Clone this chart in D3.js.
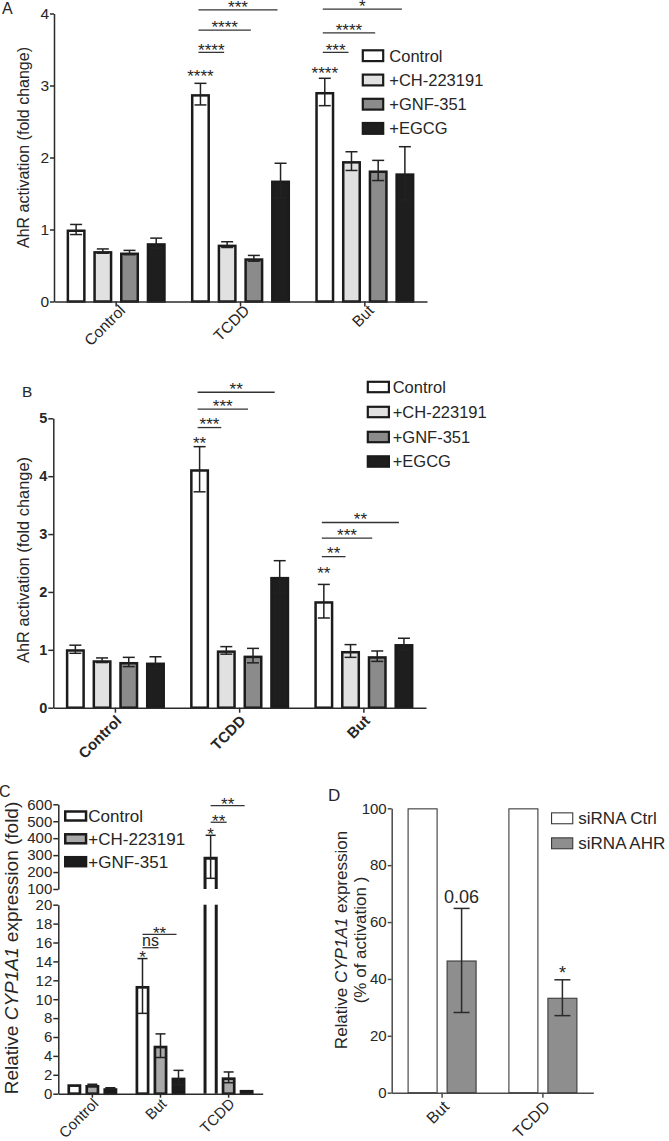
<!DOCTYPE html>
<html><head><meta charset="utf-8">
<script src="https://cdn.jsdelivr.net/npm/d3@7"></script>
<style>
body{margin:0;background:#fff;}
svg{display:block;}
</style></head><body>
<svg id="chart" width="669" height="1141"></svg>
<script>
// ================= DATA =================
// Panel A
const groupsA = ["Control", "TCDD", "But"];
const seriesA = ["Control", "+CH-223191", "+GNF-351", "+EGCG"];
const aControl = [1.00, 2.88, 2.91];
const aControlErr = [0.07, 0.15, 0.19];
const aCH = [0.70, 0.79, 1.95];
const aCHErr = [0.03, 0.04, 0.13];
const aGNF = [0.68, 0.60, 1.82];
const aGNFErr = [0.03, 0.04, 0.14];
const aEGCG = [0.81, 1.68, 1.78];
const aEGCGErr = [0.07, 0.24, 0.37];
const ticksA = [0, 1, 2, 3, 4];
const starsA = [["TCDD", "Control", "****", 3.19], ["But", "Control", "****", 3.23]];
const bracketsA = [
  ["TCDD", "Control", "+CH-223191", "****", 3.46],
  ["TCDD", "Control", "+GNF-351", "****", 3.77],
  ["TCDD", "Control", "+EGCG", "***", 4.05],
  ["But", "Control", "+CH-223191", "***", 3.46],
  ["But", "Control", "+GNF-351", "****", 3.73],
  ["But", "Control", "+EGCG", "*", 4.06]
];

// Panel B
const groupsB = ["Control", "TCDD", "But"];
const seriesB = ["Control", "+CH-223191", "+GNF-351", "+EGCG"];
const bControl = [1.01, 4.12, 1.84];
const bControlErr = [0.07, 0.39, 0.29];
const bCH = [0.82, 0.99, 0.98];
const bCHErr = [0.04, 0.065, 0.11];
const bGNF = [0.79, 0.90, 0.89];
const bGNFErr = [0.08, 0.125, 0.09];
const bEGCG = [0.78, 2.26, 1.10];
const bEGCGErr = [0.10, 0.28, 0.10];
const ticksB = [0, 1, 2, 3, 4, 5];
const starsB = [["TCDD", "Control", "**", 4.64], ["But", "Control", "**", 2.39]];
const bracketsB = [
  ["TCDD", "Control", "+CH-223191", "***", 4.84],
  ["TCDD", "Control", "+GNF-351", "***", 5.16],
  ["TCDD", "Control", "+EGCG", "**", 5.45],
  ["But", "Control", "+CH-223191", "**", 2.61],
  ["But", "Control", "+GNF-351", "***", 2.93],
  ["But", "Control", "+EGCG", "**", 3.20]
];

// Panel C
const groupsC = ["Control", "But", "TCDD"];
const seriesC = ["Control", "+CH-223191", "+GNF-351"];
const cControl = [1.0, 11.4, 290];
const cControlErr = [0, 2.9, 127];
const cCH = [0.92, 5.08, 1.73];
const cCHErr = [0.08, 1.25, 0.57];
const cGNF = [0.58, 1.7, 0.4];
const cGNFErr = [0.05, 0.77, 0];
const ticksCLow = [0, 2, 4, 6, 8, 10, 12, 14, 16, 18, 20];
const ticksCHigh = [100, 200, 300, 400, 500, 600];
const starsC = [["But", "Control", "*", 14.9], ["TCDD", "Control", "*", 448]];
const bracketsC = [
  ["But", "Control", "+CH-223191", "ns", 15.45],
  ["But", "Control", "+GNF-351", "**", 16.87],
  ["TCDD", "Control", "+CH-223191", "**", 494],
  ["TCDD", "Control", "+GNF-351", "**", 592]
];

// Panel D
const groupsD = ["But", "TCDD"];
const seriesD = ["siRNA Ctrl", "siRNA AHR"];
const dCtrl = [100, 100];
const dCtrlErr = [0, 0];
const dAHR = [46.5, 33.4];
const dAHRErr = [18.3, 6.3];
const ticksD = [0, 20, 40, 60, 80, 100];
const starsD = [["But", "siRNA AHR", "0.06", 68.9], ["TCDD", "siRNA AHR", "*", 43.7]];

// ================= STYLE =================
const FONT = "'Liberation Sans', Arial, Helvetica, sans-serif";
const INK = "#262626";
const fillsAB = ["#ffffff", "#e1e1e1", "#8b8b8b", "#1e1e1e"];
const fillsC = ["#ffffff", "#a9a9a9", "#1c1c1c"];
const fillsD = ["#ffffff", "#8e8e8e"];

const svg = d3.select("#chart").attr("font-family", FONT);

function errBar(g, cx, yLo, yHi, cap, color, w) {
  g.append("line").attr("x1", cx).attr("x2", cx).attr("y1", yLo).attr("y2", yHi)
    .attr("stroke", color).attr("stroke-width", w);
  [yLo, yHi].forEach(yy => g.append("line").attr("x1", cx - cap / 2).attr("x2", cx + cap / 2)
    .attr("y1", yy).attr("y2", yy).attr("stroke", color).attr("stroke-width", w));
}

function makePanel(o) {
  const g = svg.append("g");
  const xG = d3.scaleBand().domain(o.groups).range(o.xRange).padding(0);
  const xIn = d3.scaleBand().domain(o.seriesNames).range(o.inner).padding(0);
  const center = (grp, s) => xG(grp) + xG.bandwidth() / 2 + xIn(s) + xIn.bandwidth() / 2;
  return Object.assign(o, {g, xG, xIn, center});
}

function drawBars(p) {
  const y0 = p.y(0);
  p.series.forEach((s, si) => {
    p.groups.forEach((grp, gi) => {
      const v = s.vals[gi], e = s.errs[gi];
      const c = p.center(grp, s.name);
      if (p.broken && v > p.breakAt) { p.broken(c, v, e, si); return; }
      const top = p.y(v) + p.sw / 2;
      p.g.append("rect").attr("x", c - p.barW / 2).attr("y", top)
        .attr("width", p.barW).attr("height", Math.max(0, y0 - top))
        .attr("fill", p.fills[si]).attr("stroke", p.stroke).attr("stroke-width", p.sw);
      if (e > 0) errBar(p.g, c, p.y(v - e), p.y(v + e), p.cap, p.errColor, p.errW);
    });
  });
}

function drawStars(p, list, fs) {
  list.forEach(([grp, s, label, lvl]) => {
    const isStar = /^\*+$/.test(label);
    const yy = p.yAny(lvl);
    p.g.append("text").attr("x", p.center(grp, s)).attr("y", isStar ? yy + 0.57 * fs : yy + 0.36 * fs)
      .attr("text-anchor", "middle").attr("font-size", fs).attr("fill", INK).text(label);
  });
}

function drawBrackets(p, list, fs, gap) {
  list.forEach(([grp, s1, s2, label, lvl]) => {
    const x1 = p.center(grp, s1) + p.bx1, x2 = p.center(grp, s2) + p.bx2;
    const yy = p.yAny(lvl);
    p.g.append("line").attr("x1", x1).attr("x2", x2).attr("y1", yy).attr("y2", yy)
      .attr("stroke", "#333").attr("stroke-width", 1.3);
    const isStar = /^\*+$/.test(label);
    p.g.append("text").attr("x", (x1 + x2) / 2)
      .attr("y", isStar ? yy - gap + 0.57 * fs : yy - 1.5)
      .attr("text-anchor", "middle").attr("font-size", isStar ? fs : 16).attr("fill", INK).text(label);
  });
}

function styleAxis(sel, color, w, fs, fw) {
  sel.attr("font-family", FONT);
  sel.select(".domain").attr("stroke", color).attr("stroke-width", w);
  sel.selectAll(".tick line").attr("stroke", color).attr("stroke-width", w);
  sel.selectAll(".tick text").attr("fill", INK).attr("font-size", fs).attr("font-weight", fw || "normal");
}

function xAxis(p, baseY, color, w, fs, fw, dx, dy, tick) {
  const ax = p.g.append("g").attr("transform", `translate(0,${baseY})`)
    .call(d3.axisBottom(p.xG).tickSize(tick).tickSizeOuter(0));
  styleAxis(ax, color, w, fs, fw);
  ax.selectAll(".tick text").attr("x", 0).attr("y", 0).attr("dy", 0)
    .attr("text-anchor", "end").attr("transform", `translate(${dx},${dy}) rotate(-45)`);
  return ax;
}

function yAxis(p, scale, x, ticks, color, w, fs, fw, tick, pad) {
  const ax = p.g.append("g").attr("transform", `translate(${x},0)`)
    .call(d3.axisLeft(scale).tickValues(ticks).tickSize(tick).tickPadding(pad).tickSizeOuter(0).tickFormat(d3.format("d")));
  styleAxis(ax, color, w, fs, fw);
  return ax;
}

function legend(g, items, fills, x0, ys, bw, bh, tx, fs, sw, stroke) {
  items.forEach((name, i) => {
    g.append("rect").attr("x", x0 + sw / 2).attr("y", ys[i] - bh / 2 + sw / 2)
      .attr("width", bw - sw).attr("height", bh - sw)
      .attr("fill", fills[i]).attr("stroke", stroke).attr("stroke-width", sw);
    g.append("text").attr("x", tx).attr("y", ys[i]).attr("dy", "0.36em")
      .attr("font-size", fs).attr("fill", INK).text(name);
  });
}

function yTitle(lines, x, y, fs) {
  const t = svg.append("text").attr("transform", `translate(${x},${y}) rotate(-90)`)
    .attr("text-anchor", "middle").attr("font-size", fs).attr("fill", INK).attr("font-family", FONT);
  lines.forEach(([txt, italic]) => t.append("tspan").attr("font-style", italic ? "italic" : "normal").text(txt));
  return t;
}

function panelLabel(txt, x, y, fs) {
  svg.append("text").attr("x", x).attr("y", y).attr("font-size", fs).attr("fill", INK)
    .attr("font-family", FONT).text(txt);
}

// ================= PANEL A =================
{
  const y = d3.scaleLinear().domain([0, 4]).range([301.5, 13.5]);
  const p = makePanel({
    groups: groupsA, seriesNames: seriesA, xRange: [54, 427], inner: [-53.4, 53.4],
    y, yAny: y, barW: 16.5, sw: 2.5, stroke: "#1b1b1b", fills: fillsAB,
    cap: 12, errColor: "#222", errW: 1.5, bx1: -2, bx2: -3,
    series: [
      {name: seriesA[0], vals: aControl, errs: aControlErr},
      {name: seriesA[1], vals: aCH, errs: aCHErr},
      {name: seriesA[2], vals: aGNF, errs: aGNFErr},
      {name: seriesA[3], vals: aEGCG, errs: aEGCGErr}
    ]
  });
  drawBars(p);
  yAxis(p, y, 54, ticksA, "#2b2b2b", 1.5, 15.5, "normal", 4, 1);
  xAxis(p, y(0), "#2b2b2b", 1.5, 15.5, "normal", 10, 10, 5);
  drawStars(p, starsA, 17);
  drawBrackets(p, bracketsA, 17, 6.5);
  legend(p.g, seriesA, fillsAB, 361.7, [55.7, 80, 104.2, 128.4], 22.6, 13, 389.3, 16.5, 2.2, "#1b1b1b");
  yTitle([["AhR activation (fold change)", false]], 29, 147.5, 16);
  panelLabel("A", 2, 14, 16);
}

// ================= PANEL B =================
{
  const y = d3.scaleLinear().domain([0, 5]).range([707.7, 418.3]);
  const p = makePanel({
    groups: groupsB, seriesNames: seriesB, xRange: [53.3, 426], inner: [-53.4, 53.4],
    y, yAny: y, barW: 16.5, sw: 2.5, stroke: "#1b1b1b", fills: fillsAB,
    cap: 12, errColor: "#222", errW: 1.5, bx1: -2, bx2: -5,
    series: [
      {name: seriesB[0], vals: bControl, errs: bControlErr},
      {name: seriesB[1], vals: bCH, errs: bCHErr},
      {name: seriesB[2], vals: bGNF, errs: bGNFErr},
      {name: seriesB[3], vals: bEGCG, errs: bEGCGErr}
    ]
  });
  drawBars(p);
  yAxis(p, y, 53.3, ticksB, "#2b2b2b", 1.5, 14.5, "bold", 5, 1);
  xAxis(p, y(0), "#2b2b2b", 1.5, 15, "bold", 7, 14, 5);
  drawStars(p, starsB, 17);
  drawBrackets(p, bracketsB, 17, 7);
  legend(p.g, seriesB, fillsAB, 366.7, [387, 412, 437, 461.5], 23.3, 12.6, 392.7, 16.5, 2.2, "#1b1b1b");
  yTitle([["AhR activation (fold change)", false]], 29, 560, 16.4);
  panelLabel("B", 22, 397, 15.5);
}

// ================= PANEL C =================
{
  const yL = d3.scaleLinear().domain([0, 20]).range([1093.7, 904.7]);
  const yU = d3.scaleLinear().domain([100, 600]).range([889, 804.3]);
  const yAny = v => v > 20 ? yU(v) : yL(v);
  const p = makePanel({
    groups: groupsC, seriesNames: seriesC, xRange: [58.3, 262.7], inner: [-27, 27],
    y: yL, yAny, barW: 11.2, sw: 2.7, stroke: "#1b1b1b", fills: fillsC,
    cap: 10, errColor: "#222", errW: 1.5, bx1: 0, bx2: -2, breakAt: 20,
    series: [
      {name: seriesC[0], vals: cControl, errs: cControlErr},
      {name: seriesC[1], vals: cCH, errs: cCHErr},
      {name: seriesC[2], vals: cGNF, errs: cGNFErr}
    ]
  });
  p.broken = (c, v, e, si) => {
    const l = c - p.barW / 2, r = c + p.barW / 2;
    [l, r].forEach(xx => p.g.append("line").attr("x1", xx).attr("x2", xx)
      .attr("y1", yL(0)).attr("y2", yL(20)).attr("stroke", "#1b1b1b").attr("stroke-width", p.sw + 0.3));
    p.g.append("path").attr("d", `M${l},${yU(100)}V${yU(v) + p.sw / 2}H${r}V${yU(100)}`)
      .attr("fill", p.fills[si]).attr("stroke", "#1b1b1b").attr("stroke-width", p.sw + 0.3);
    errBar(p.g, c, yU(v - e), yU(v + e), p.cap, p.errColor, p.errW);
  };
  drawBars(p);
  yAxis(p, yL, 58.3, ticksCLow, "#2b2b2b", 1.5, 15, "normal", 5, 1);
  yAxis(p, yU, 58.3, ticksCHigh, "#2b2b2b", 1.5, 15, "normal", 5, 1);
  xAxis(p, yL(0), "#2b2b2b", 1.5, 15, "normal", 7, 11, 4);
  drawStars(p, starsC, 17);
  drawBrackets(p, bracketsC, 17, 5);
  legend(p.g, seriesC, fillsC, 64, [816, 838.8, 861.7], 23.3, 11.5, 88.3, 17, 2.5, "#1b1b1b");
  yTitle([["Relative ", false], ["CYP1A1", true], [" expression (fold)", false]], 18, 948, 19);
  panelLabel("C", -1, 797, 16);
}

// ================= PANEL D =================
{
  const y = d3.scaleLinear().domain([0, 100]).range([1092.7, 808.3]);
  const p = makePanel({
    groups: groupsD, seriesNames: seriesD, xRange: [391.7, 593.3], inner: [-39, 39],
    y, yAny: y, barW: 29, sw: 1.1, stroke: "#3a3a3a", fills: fillsD,
    cap: 16, errColor: "#2a2a2a", errW: 1.5, bx1: 0, bx2: 0,
    series: [
      {name: seriesD[0], vals: dCtrl, errs: dCtrlErr},
      {name: seriesD[1], vals: dAHR, errs: dAHRErr}
    ]
  });
  drawBars(p);
  yAxis(p, y, 391.7, ticksD, "#4a4a4a", 1.5, 15, "normal", 4, 1);
  xAxis(p, y(0), "#4a4a4a", 1.5, 16, "normal", 8, 15, 5);
  drawStars(p, starsD, 18);
  legend(p.g, seriesD, fillsD, 551, [818.3, 843.3], 22.3, 12, 578.3, 17, 1.1, "#3a3a3a");
  yTitle([["Relative ", false], ["CYP1A1", true], [" expression", false]], 347, 940, 17);
  yTitle([["(% of activation )", false]], 366, 940, 17);
  panelLabel("D", 328, 801, 17);
}
</script></body></html>
